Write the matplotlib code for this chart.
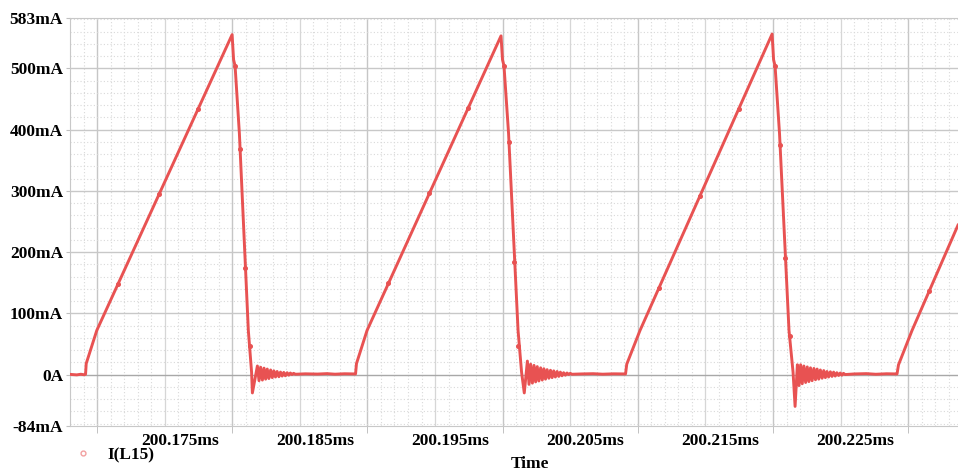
import numpy as np
import matplotlib.pyplot as plt
from matplotlib.lines import Line2D
from matplotlib.transforms import ScaledTranslation

plt.rcParams['font.family'] = ['Liberation Serif', 'DejaVu Serif']
plt.rcParams['font.weight'] = 'bold'

# time axis: microseconds after 200.17 ms, current in mA
# one switching period per block: ramp up, turn-off, ringing, idle
period1_t = [-2.00, -1.50, -1.20, -0.96, -0.85, -0.80, -0.02, 9.99, 10.10, 10.21, 10.53, 11.19, 11.43, 11.49,
             11.86, 11.98, 12.10, 12.23, 12.35, 12.47, 12.59, 12.71, 12.84, 12.96, 13.08, 13.20,
             13.32, 13.45, 13.57, 13.69, 13.81, 13.93, 14.06, 14.18, 14.30, 14.42, 14.54, 14.67,
             15.40, 16.30, 17.00, 17.60, 18.30]
period1_i = [0.3, -0.5, 0.5, -0.3, 0.5, 18, 72, 555, 514, 504, 393, 72, 4, -30,
             14, -10, 12, -9, 10.5, -7.5, 9, -6.5, 7.5, -5, 6, -4,
             5, -3.5, 4, -2.5, 3.5, -2, 3, -1, 2.5, 0, 2, 0.5,
             1.2, 0.8, 1.5, 0.6, 1.3]

period2_t = [19.12, 19.19, 19.97, 29.88, 29.99, 30.10, 30.44, 31.14, 31.40, 31.60,
             31.83, 31.95, 32.07, 32.20, 32.32, 32.44, 32.56, 32.68, 32.81, 32.93, 33.05,
             33.17, 33.29, 33.42, 33.54, 33.66, 33.78, 33.90, 34.03, 34.15, 34.27,
             34.39, 34.51, 34.64, 34.76, 34.88, 35.00, 35.12,
             35.80, 36.70, 37.40, 38.20]
period2_i = [1.0, 18, 72, 553, 514, 504, 393, 72, 4, -30,
             22, -16, 17, -14, 15, -12, 13, -10.5, 11, -9, 9.5,
             -7.5, 8, -6, 7, -5, 6, -4, 5, -3, 4,
             -2, 3, -1, 2.5, 0, 2, 0.5,
             1.0, 1.4, 0.6, 1.2]

period3_t = [39.09, 39.18, 40.16, 49.93, 50.04, 50.15, 50.48, 51.18, 51.48, 51.63,
             51.80, 51.92, 52.04, 52.16, 52.28, 52.41, 52.53, 52.65, 52.77, 52.89, 53.02,
             53.14, 53.26, 53.38, 53.50, 53.63, 53.75, 53.87, 53.99, 54.11, 54.24,
             54.36, 54.48, 54.60, 54.72, 54.85, 54.97, 55.09, 55.21, 55.33,
             56.00, 56.90, 57.60, 58.40]
period3_i = [1.0, 17, 72, 556, 514, 504, 393, 72, 4, -52,
             16, -18, 16, -15, 14, -13, 12.5, -11.5, 11, -10, 10,
             -8.5, 9, -7.5, 7.5, -6, 6.5, -5, 5, -4, 4.5,
             -3, 4, -2.5, 3, -1.5, 2.5, -1, 2, 0,
             1.0, 1.5, 0.5, 1.3]

period4_t = [59.17, 59.28, 60.28, 63.68]
period4_i = [1.0, 16, 72, 244]

# individual simulation sample dots visible on the trace
dot_t = [1.55, 4.59, 7.47, 10.21, 10.58, 10.98, 11.28,
         21.55, 24.59, 27.47, 30.10, 30.47, 30.87, 31.17,
         41.55, 44.59, 47.47, 50.15, 50.52, 50.92, 51.22, 61.55]
dot_i = [148, 295, 434, 504, 369, 174, 46,
         149, 296, 436, 504, 379, 184, 46,
         141, 291, 434, 504, 375, 191, 63, 136]

ytick_vals = [583, 500, 400, 300, 200, 100, 0, -84]
ytick_labels = ['583mA', '500mA', '400mA', '300mA', '200mA', '100mA', '0A', '-84mA']
xtick_vals = [5, 15, 25, 35, 45, 55]
xtick_labels = ['200.175ms', '200.185ms', '200.195ms', '200.205ms', '200.215ms', '200.225ms']

trace_t = np.concatenate([period1_t, period2_t, period3_t, period4_t])
trace_i = np.concatenate([period1_i, period2_i, period3_i, period4_i])

RED = '#e85252'

fig = plt.figure(figsize=(9.58, 4.74), dpi=100)
ax = fig.add_axes([70 / 958, 48 / 474, 888 / 958, 408.5 / 474])
ax.set_xlim(-2.0, 63.68)
ax.set_ylim(-84, 583)

# grid: fine dotted, half-division solid, division solid
for x in np.arange(-2, 64, 1):
    if x % 5 != 0:
        ax.axvline(x, color='#d9d9d9', lw=0.8, ls=(0, (1, 2)), zorder=0)
for x in np.arange(5, 64, 10):
    ax.axvline(x, color='#d6d6d6', lw=0.9, zorder=0)
for x in np.arange(0, 64, 10):
    ax.axvline(x, color='#c6c6c6', lw=1.0, zorder=0)
for y in np.arange(-80, 583, 20):
    if y % 100 != 0:
        ax.axhline(y, color='#d9d9d9', lw=0.8, ls=(0, (1, 2)), zorder=0)
for y in np.arange(100, 583, 100):
    ax.axhline(y, color='#c8c8c8', lw=1.0, zorder=0)
ax.axhline(0, color='#a8a8a8', lw=1.0, zorder=0)

ax.plot(trace_t, trace_i, color=RED, lw=2.1, solid_joinstyle='round', zorder=3)
ax.plot(dot_t, dot_i, ls='none', marker='o', ms=2.6, color=RED, zorder=4)

for side in ['top', 'bottom', 'left']:
    ax.spines[side].set_color('#c8c8c8')
ax.spines['right'].set_visible(False)

ax.set_yticks(ytick_vals, ytick_labels)
ax.tick_params(axis='y', length=3, color='#c0c0c0', pad=2, labelsize=12.5)

ax.set_xticks(np.arange(0, 64, 10), minor=True)
ax.tick_params(axis='x', which='minor', length=5, color='#b8b8b8', labelbottom=False)
ax.set_xticks(xtick_vals, xtick_labels)
ax.tick_params(axis='x', which='major', length=0, pad=5, labelsize=12.5)
for lbl in ax.get_xticklabels():
    lbl.set_transform(lbl.get_transform() + ScaledTranslation(15 / 100, 0, fig.dpi_scale_trans))

ax.set_xlabel('Time', fontsize=12.5, fontweight='bold')
ax.xaxis.set_label_coords(0.518, -0.073)

legend_handle = Line2D([], [], ls='none', marker='o', ms=3.5, mfc='none', mec='#f2a0a0', mew=1.0)
ax.legend([legend_handle], ['I(L15)'], loc='center left', bbox_to_anchor=(66 / 958, 1 - 455 / 474),
          bbox_transform=fig.transFigure, frameon=False, borderpad=0, handlelength=1.0,
          handletextpad=0.9, prop={'family': 'Liberation Serif', 'weight': 'bold', 'size': 12.5})

plt.savefig('out.png', dpi=100)
